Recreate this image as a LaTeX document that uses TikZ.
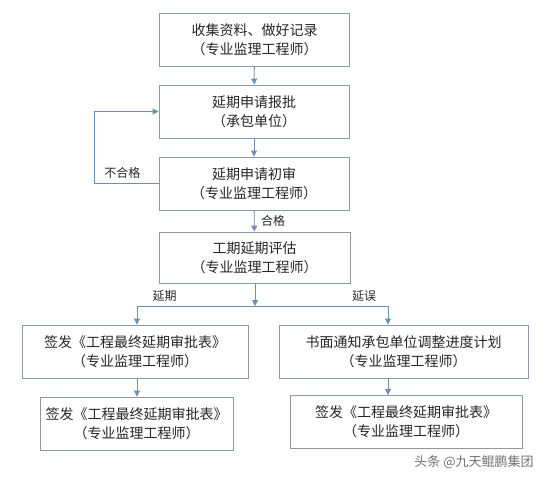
\documentclass[tikz,border=0pt]{standalone}
\usepackage{fontspec}
\setmainfont{Noto Sans CJK SC}
\usetikzlibrary{positioning,arrows.meta}

\definecolor{boxline}{HTML}{8C99A6}
\definecolor{arrowblue}{HTML}{6E8FB0}

\begin{document}
\begin{tikzpicture}[
        x=1pt, y=-1pt,
        font=\fontsize{14}{19}\selectfont,
        box/.style={draw=boxline, line width=0.9pt, align=center, text=black!85,
            minimum height=53pt, inner sep=2pt},
        arr/.style={-{Triangle[width=6pt,length=6pt]}, draw=arrowblue, line width=0.9pt},
        link/.style={draw=arrowblue, line width=0.9pt},
        tag/.style={font=\fontsize{12}{14}\selectfont, text=black!85},
    ]
        \useasboundingbox[fill=white] (0,0) rectangle (553,482);

        % main column
        \node[box, minimum width=190pt] (shouji) at (254.5,40) {收集资料、做好记录\\（专业监理工程师）};
        \node[box, minimum width=190pt] (baopi) at (254,111.5) {延期申请报批\\（承包单位）};
        \node[box, minimum width=190pt] (chushen) at (254,183.5) {延期申请初审\\（专业监理工程师）};
        \node[box, minimum width=191pt, minimum height=51pt] (pinggu) at (254.5,257.5) {工期延期评估\\（专业监理工程师）};

        % two branches
        \node[box, minimum width=226pt] (qianfaA) at (135,351.5) {签发《工程最终延期审批表》\\（专业监理工程师）};
        \node[box, minimum width=249pt] (tongzhi) at (403.5,351.5) {书面通知承包单位调整进度计划\\（专业监理工程师）};
        \node[box, minimum width=193pt] (qianfaB) at (136.5,423.5) {签发《工程最终延期审批表》\\（专业监理工程师）};
        \node[box, minimum width=232pt] (qianfaC) at (406,422) {签发《工程最终延期审批表》\\（专业监理工程师）};

        \coordinate (fork) at (255,306);
        \coordinate (forkL) at (137,306);
        \coordinate (forkR) at (388,306);

        \draw[arr] (shouji) -- (baopi);
        \draw[arr] (baopi) -- (chushen);
        \draw[arr] (chushen) -- node[tag, right=3pt] (hege) {合格} (pinggu);
        \draw[arr] (chushen.west) -- ++(-64,0) node[tag, above right=1pt and 6pt] (buhege) {不合格} |- (baopi.west);

        \draw[arr] (pinggu.south -| fork) -- (fork);
        \draw[link] (forkL) -- node[tag, pos=0.11, above=1pt] (yanqi) {延期} (forkR);
        \node[tag, above=1pt] (yanwu) at (364,306) {延误};
        \draw[arr] (forkL) -- (forkL |- qianfaA.north);
        \draw[arr] (forkR) -- (forkR |- tongzhi.north);
        \draw[arr] (forkL |- qianfaA.south) -- (forkL |- qianfaB.north);
        \draw[arr] (forkR |- tongzhi.south) -- (forkR |- qianfaC.north);

        % watermark
        \node[font=\fontsize{13}{15}\selectfont, text=black!55] (mark) at (474,462) {头条 @九天鲲鹏集团};
    \end{tikzpicture}
\end{document}
